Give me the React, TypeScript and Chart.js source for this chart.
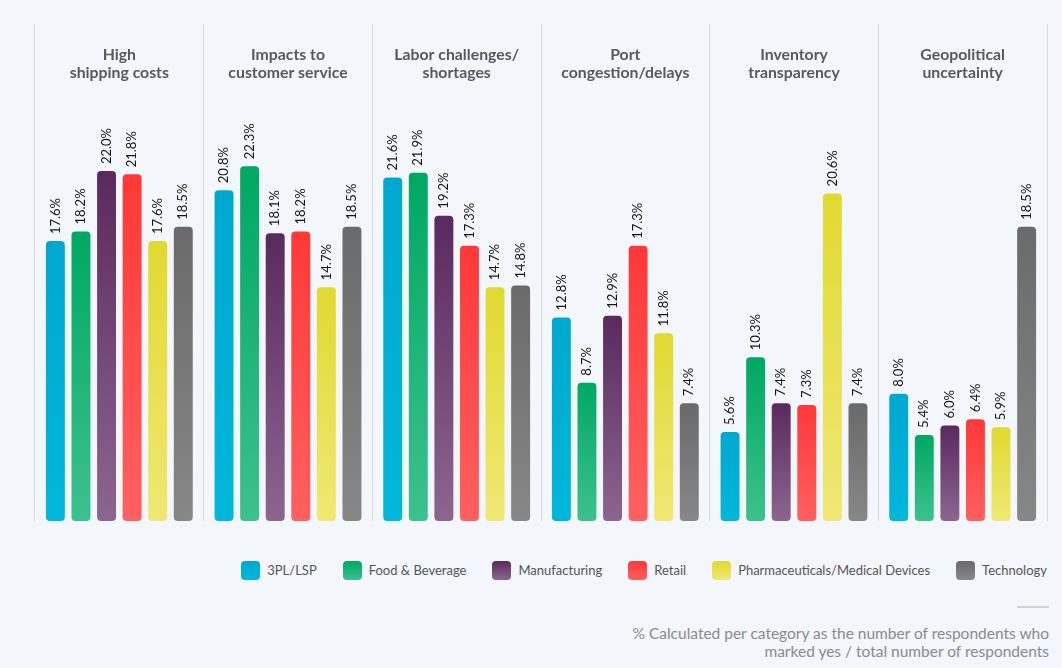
import React, { useEffect, useRef } from "react";
import Chart from "chart.js/auto";

const categories: string[][] = [
  ["High", "shipping costs"],
  ["Impacts to", "customer service"],
  ["Labor challenges/", "shortages"],
  ["Port", "congestion/delays"],
  ["Inventory", "transparency"],
  ["Geopolitical", "uncertainty"],
];

const seriesNames = [
  "3PL/LSP",
  "Food & Beverage",
  "Manufacturing",
  "Retail",
  "Pharmaceuticals/Medical Devices",
  "Technology",
];

const threePL = [17.6, 20.8, 21.6, 12.8, 5.6, 8.0];
const foodBeverage = [18.2, 22.3, 21.9, 8.7, 10.3, 5.4];
const manufacturing = [22.0, 18.1, 19.2, 12.9, 7.4, 6.0];
const retail = [21.8, 18.2, 17.3, 17.3, 7.3, 6.4];
const pharma = [17.6, 14.7, 14.7, 11.8, 20.6, 5.9];
const technology = [18.5, 18.5, 14.8, 7.4, 7.4, 18.5];

const footnoteLines = [
  "% Calculated per category as the number of respondents who",
  "marked yes / total number of respondents",
];

const seriesValues = [threePL, foodBeverage, manufacturing, retail, pharma, technology];

const gradTop = ["#00A8CF", "#00A862", "#5A2A5E", "#FF3838", "#E0D930", "#696A69"];
const gradBottom = ["#00B7DA", "#3DC18E", "#8B6690", "#FF6060", "#F0E874", "#868786"];

const BG = "#F3F6FA";

export default function App() {
  const canvasRef = useRef<HTMLCanvasElement | null>(null);

  useEffect(() => {
    const canvas = canvasRef.current;
    if (!canvas) return;

    const titlePlugin = {
      id: "groupTitles",
      afterDraw(chart: any) {
        const { ctx, chartArea, scales } = chart;
        ctx.save();
        ctx.fillStyle = "#58595B";
        ctx.font = "bold 15.8px Lato";
        ctx.textAlign = "center";
        ctx.textBaseline = "middle";
        categories.forEach((lines, i) => {
          const x = scales.x.getPixelForValue(i);
          lines.forEach((line, j) => {
            ctx.fillText(line, x, chartArea.top + 31 + j * 18);
          });
        });
        ctx.restore();
      },
    };

    const labelPlugin = {
      id: "barLabels",
      afterDatasetsDraw(chart: any) {
        const { ctx } = chart;
        ctx.save();
        ctx.fillStyle = "#151515";
        ctx.font = "13px Lato";
        ctx.textAlign = "left";
        ctx.textBaseline = "middle";
        chart.data.datasets.forEach((ds: any, di: number) => {
          const meta = chart.getDatasetMeta(di);
          meta.data.forEach((bar: any, i: number) => {
            const v = ds.data[i];
            ctx.save();
            ctx.translate(bar.x, bar.y - 7);
            ctx.rotate(-Math.PI / 2);
            ctx.fillText(v.toFixed(1) + "%", 0, 0);
            ctx.restore();
          });
        });
        ctx.restore();
      },
    };

    const chart = new Chart(canvas, {
      type: "bar",
      data: {
        labels: categories.map((c) => c.join(" ")),
        datasets: seriesNames.map((name, si) => ({
          label: name,
          data: seriesValues[si],
          backgroundColor: (ctx: any) => {
            const ch = ctx.chart;
            const { chartArea, scales } = ch;
            if (!chartArea || ctx.type !== "data" || !scales.y) return gradTop[si];
            const v = ctx.raw as number;
            const y0 = scales.y.getPixelForValue(v);
            const y1 = scales.y.getPixelForValue(0);
            const g = ch.ctx.createLinearGradient(0, y0, 0, y1);
            g.addColorStop(0, gradTop[si]);
            g.addColorStop(1, gradBottom[si]);
            return g;
          },
          borderRadius: 4,
          borderSkipped: false,
          borderWidth: 0,
          barPercentage: 0.74,
          categoryPercentage: 0.91,
        })),
      },
      options: {
        responsive: false,
        maintainAspectRatio: false,
        animation: false,
        layout: { padding: { left: 35, right: 15, top: 24, bottom: 9 } },
        plugins: {
          legend: { display: false },
          tooltip: { enabled: false },
        },
        scales: {
          x: {
            display: true,
            offset: true,
            grid: { display: true, offset: true, color: "#D8DCE0", lineWidth: 1, drawTicks: false },
            border: { display: false },
            ticks: { display: false },
          },
          y: {
            display: false,
            min: 0,
            max: 31.25,
          },
        },
      },
      plugins: [titlePlugin, labelPlugin],
    });

    return () => chart.destroy();
  }, []);

  return (
    <div
      style={{
        position: "fixed",
        left: 0,
        top: 0,
        width: 1062,
        height: 668,
        background: BG,
        overflow: "hidden",
        fontFamily: "Lato, sans-serif",
      }}
    >
      <canvas ref={canvasRef} width={1062} height={530} style={{ display: "block", width: 1062, height: 530 }} />
      <div
        style={{
          position: "absolute",
          top: 561,
          right: 15,
          display: "flex",
          alignItems: "center",
          fontSize: 13,
          color: "#555558",
          lineHeight: "19px",
        }}
      >
        {seriesNames.map((name, i) => (
          <div key={name} style={{ display: "flex", alignItems: "center", marginLeft: i === 0 ? 0 : 26 }}>
            <div
              style={{
                width: 19,
                height: 19,
                borderRadius: 4,
                background: `linear-gradient(${gradTop[i]}, ${gradBottom[i]})`,
                marginRight: 7,
              }}
            />
            <span>{name}</span>
          </div>
        ))}
      </div>
      <div
        style={{
          position: "absolute",
          top: 606,
          right: 13,
          width: 32,
          height: 2,
          background: "#CFD2D6",
        }}
      />
      <div
        style={{
          position: "absolute",
          top: 624,
          right: 13,
          textAlign: "right",
          fontSize: 15.5,
          lineHeight: "18px",
          color: "#8A8B8D",
        }}
      >
        {footnoteLines.map((l) => (
          <div key={l}>{l}</div>
        ))}
      </div>
    </div>
  );
}
